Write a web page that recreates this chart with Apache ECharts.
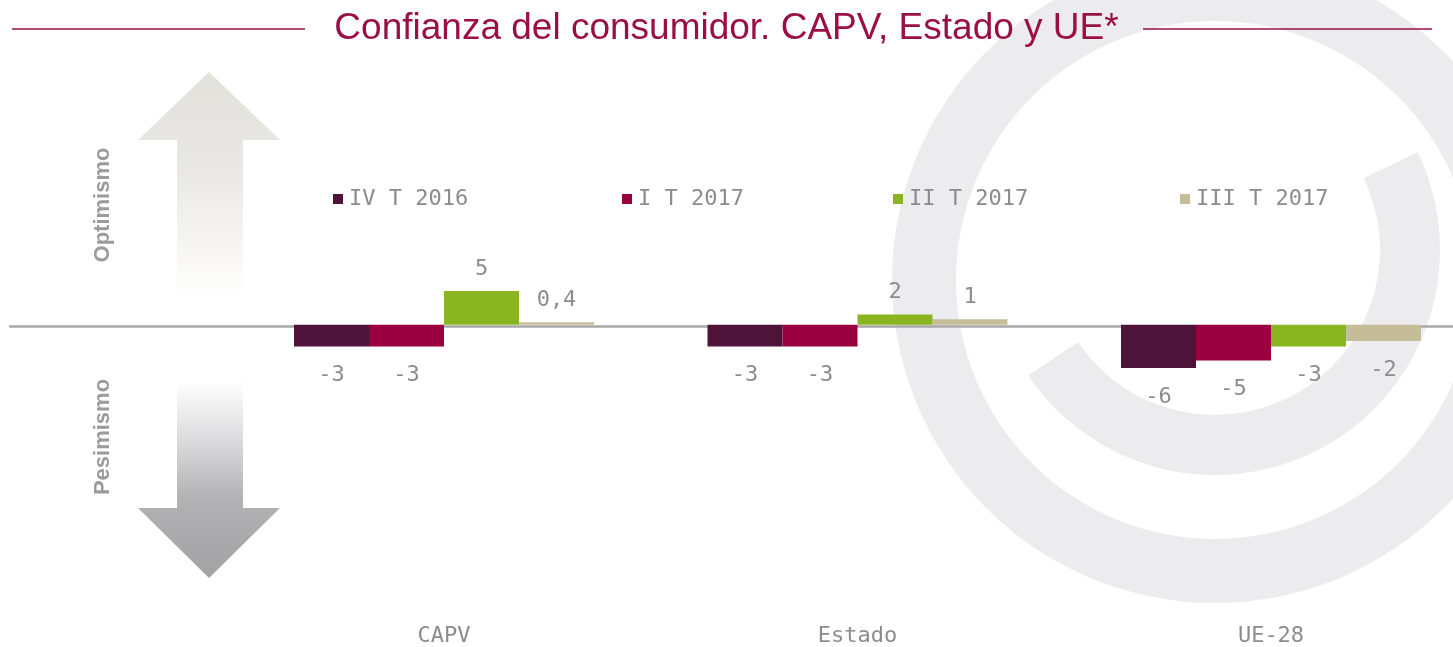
<!DOCTYPE html>
<html>
<head>
<meta charset="utf-8">
<script src="https://cdn.jsdelivr.net/npm/echarts@6/dist/echarts.min.js"></script>
<style>
html,body{margin:0;padding:0;background:#ffffff;}
#chart{width:1453px;height:647px;}
</style>
</head>
<body>
<div id="chart"></div>
<script>
// ---- data ----
const categories = ['CAPV', 'Estado', 'UE-28'];
const seriesNames = ['IV T 2016', 'I T 2017', 'II T 2017', 'III T 2017'];
const ivT2016 = [-3.2, -3.2, -6.4];
const iT2017 = [-3.2, -3.2, -5.3];
const iiT2017 = [5.0, 1.5, -3.2];
const iiiT2017 = [0.35, 0.8, -2.4];
// value labels as printed in the source
const ivT2016Labels = ['-3', '-3', '-6'];
const iT2017Labels = ['-3', '-3', '-5'];
const iiT2017Labels = ['5', '2', '-3'];
const iiiT2017Labels = ['0,4', '1', '-2'];

const titleText = 'Confianza del consumidor. CAPV, Estado y UE*';
const colors = ['#4d1339', '#99003d', '#8ab521', '#c5bd98'];

const values = [ivT2016, iT2017, iiT2017, iiiT2017];
const labels = [ivT2016Labels, iT2017Labels, iiT2017Labels, iiiT2017Labels];

const monoFont = '"DejaVu Sans Mono", monospace';
const labelColor = '#8c8c8c';
const burgundy = '#9b0f47';

const chart = echarts.init(document.getElementById('chart'), null, {renderer: 'canvas'});

const series = seriesNames.map((name, si) => ({
  name: name,
  type: 'bar',
  xAxisIndex: 0,
  yAxisIndex: 0,
  barWidth: 75,
  barGap: '0%',
  itemStyle: {color: colors[si]},
  data: values[si].map((v, ci) => ({
    value: v,
    label: {
      show: true,
      position: v >= 0 ? 'top' : 'bottom',
      distance: v >= 0 ? 11 : 18,
      formatter: () => labels[si][ci],
      color: labelColor,
      fontFamily: monoFont,
      fontSize: 22
    }
  }))
}));

const legendLefts = [333, 622, 893, 1180];
const legends = seriesNames.map((n, i) => ({
  data: [n],
  left: legendLefts[i],
  top: 188,
  padding: 0,
  itemWidth: 10,
  itemHeight: 10,
  itemGap: 0,
  selectedMode: false,
  textStyle: {color: labelColor, fontFamily: monoFont, fontSize: 22, padding: [0, 0, 0, 1]},
  icon: 'rect'
}));

const option = {
  backgroundColor: '#ffffff',
  animation: false,
  title: {
    text: titleText,
    left: 'center',
    top: 5,
    textStyle: {color: burgundy, fontFamily: '"Liberation Sans", Arial, sans-serif', fontSize: 37, fontWeight: 'normal'}
  },
  legend: legends,
  grid: [
    {left: 444, right: 182, top: 54, bottom: 35},
    {left: 10, right: 0, top: 54, bottom: 35}
  ],
  xAxis: [
    {
      type: 'category', gridIndex: 0, data: categories, boundaryGap: false,
      axisLine: {show: false, onZero: false}, axisTick: {show: false},
      axisLabel: {color: labelColor, fontFamily: monoFont, fontSize: 22, margin: 16},
      splitLine: {show: false}
    },
    {
      type: 'value', gridIndex: 1, min: 0, max: 1,
      axisLine: {show: true, onZero: true, lineStyle: {color: '#a8a8a8', width: 2.5}},
      axisTick: {show: false}, axisLabel: {show: false}, splitLine: {show: false}
    }
  ],
  yAxis: [
    {type: 'value', gridIndex: 0, min: -42, max: 40, show: false, splitLine: {show: false}},
    {type: 'value', gridIndex: 1, min: -42, max: 40, show: false, splitLine: {show: false}}
  ],
  graphic: [
    // background logo ring
    {type: 'sector', z: -10, silent: true,
     shape: {cx: 1215, cy: 280, r0: 259, r: 323, startAngle: 0, endAngle: Math.PI * 2},
     style: {fill: '#ececee'}},
    {type: 'sector', z: -10, silent: true,
     shape: {cx: 1215, cy: 250, r0: 165, r: 225, startAngle: -0.45, endAngle: 2.55, clockwise: true},
     style: {fill: '#ececee'}},
    // title rules
    {type: 'line', shape: {x1: 12, y1: 29, x2: 305, y2: 29}, style: {stroke: burgundy, lineWidth: 1.5}},
    {type: 'line', shape: {x1: 1143, y1: 29, x2: 1432, y2: 29}, style: {stroke: burgundy, lineWidth: 1.5}},
    // optimism arrow
    {type: 'polygon', z: -5, silent: true,
     shape: {points: [[209, 72], [280, 140], [243, 140], [243, 300], [177, 300], [177, 140], [138, 140]]},
     style: {fill: new echarts.graphic.LinearGradient(0, 0, 0, 1, [
       {offset: 0, color: '#e3e1dc'}, {offset: 0.4, color: '#e9e7e3'}, {offset: 1, color: '#ffffff'}])}},
    // pessimism arrow
    {type: 'polygon', z: -5, silent: true,
     shape: {points: [[177, 380], [243, 380], [243, 508], [280, 508], [209, 578], [138, 508], [177, 508]]},
     style: {fill: new echarts.graphic.LinearGradient(0, 0, 0, 1, [
       {offset: 0, color: '#ffffff'}, {offset: 0.3, color: '#dcdcde'}, {offset: 0.6, color: '#b2b2b4'}, {offset: 1, color: '#a2a2a4'}])}},
    {type: 'text', x: 103, y: 205, rotation: Math.PI / 2,
     style: {text: 'Optimismo', fill: '#9b9b9b', font: 'bold 22px "Liberation Sans", Arial, sans-serif', align: 'center', verticalAlign: 'middle'}},
    {type: 'text', x: 103, y: 437, rotation: Math.PI / 2,
     style: {text: 'Pesimismo', fill: '#9b9b9b', font: 'bold 22px "Liberation Sans", Arial, sans-serif', align: 'center', verticalAlign: 'middle'}}
  ],
  series: series
};

chart.setOption(option);
</script>
</body>
</html>
